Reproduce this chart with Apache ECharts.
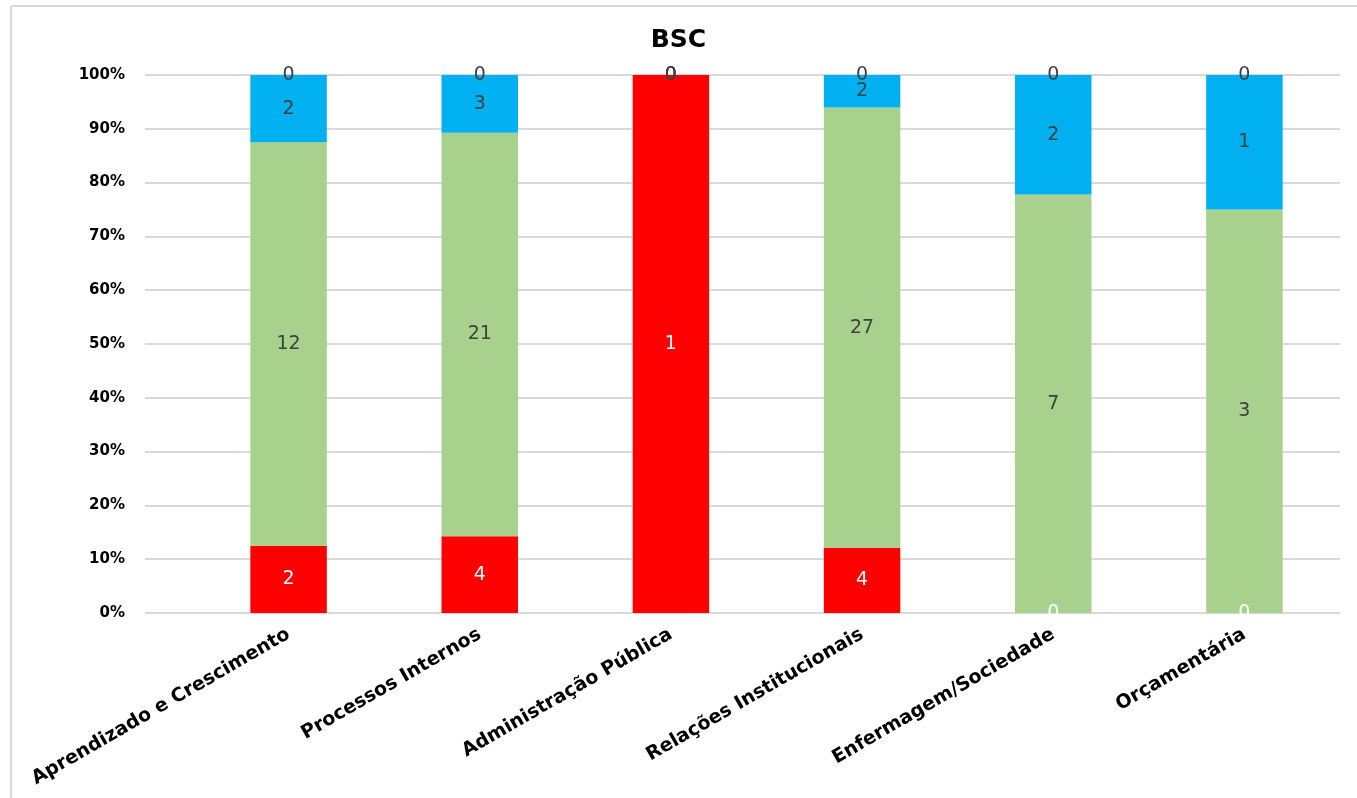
<!DOCTYPE html>
<html>
<head>
<meta charset="utf-8">
<script src="https://cdn.jsdelivr.net/npm/echarts@6/dist/echarts.min.js"></script>
<style>
  html, body { margin: 0; padding: 0; background: #fff; }
  #chart { width: 1357px; height: 798px; }
</style>
</head>
<body>
<div id="chart"></div>
<script>
const categories = [
    'Aprendizado e Crescimento',
    'Processos Internos',
    'Administração Pública',
    'Relações Institucionais',
    'Enfermagem/Sociedade',
    'Orçamentária'
];
const redValues = [2, 4, 1, 4, 0, 0];
const greenValues = [12, 21, 0, 27, 7, 3];
const blueValues = [2, 3, 0, 2, 2, 1];
const topValues = [0, 0, 0, 0, 0, 0];
const yTicks = [0, 10, 20, 30, 40, 50, 60, 70, 80, 90, 100];

const totals = categories.map((c, i) => redValues[i] + greenValues[i] + blueValues[i] + topValues[i]);

// share of each segment in its column, in percent
function toPercent(values) {
    return values.map((v, i) => ({
        value: totals[i] ? Math.round(v / totals[i] * 1e8) / 1e6 : 0,
        count: v
    }));
}

function makeSeries(name, values, color, labelColor) {
    return {
        name: name,
        type: 'bar',
        stack: 'total',
        barWidth: '40%',
        clip: false,
        data: toPercent(values),
        itemStyle: { color: color },
        label: {
            show: true,
            position: 'inside',
            color: labelColor,
            fontFamily: 'DejaVu Sans',
            fontSize: 19,
            formatter: p => String(p.data.count)
        },
        labelLayout: { hideOverlap: false },
        z: 2
    };
}

const chart = echarts.init(document.getElementById('chart'));
chart.setOption({
    animation: false,
    title: {
        text: 'BSC',
        left: 'center',
        top: 23,
        textStyle: { fontFamily: 'DejaVu Sans', fontWeight: 'bold', fontSize: 25, color: '#000' }
    },
    grid: { left: 193, right: 17, top: 75, bottom: 185 },
    graphic: [
        { type: 'line', shape: { x1: 11, y1: 6, x2: 1357, y2: 6 }, style: { stroke: '#d9d9d9', lineWidth: 2 } },
        { type: 'line', shape: { x1: 11, y1: 6, x2: 11, y2: 798 }, style: { stroke: '#d9d9d9', lineWidth: 2 } }
    ],
    xAxis: {
        type: 'category',
        data: categories,
        axisLine: { show: false },
        axisTick: { show: false },
        axisLabel: {
            rotate: 30,
            interval: 0,
            margin: 20,
            color: '#000',
            fontFamily: 'DejaVu Sans',
            fontWeight: 'bold',
            fontSize: 19
        }
    },
    yAxis: {
        type: 'value',
        min: yTicks[0],
        max: yTicks[yTicks.length - 1],
        interval: 10,
        axisLine: { show: false },
        axisTick: { show: true, length: 48, lineStyle: { color: '#d9d9d9', width: 2 } },
        splitLine: { lineStyle: { color: '#d9d9d9', width: 2 } },
        axisLabel: {
            margin: 68,
            formatter: '{value}%',
            color: '#000',
            fontFamily: 'DejaVu Sans',
            fontWeight: 'bold',
            fontSize: 15
        }
    },
    series: [
        makeSeries('Vermelho', redValues, '#FF0000', '#fff'),
        makeSeries('Verde', greenValues, '#A9D18E', '#404040'),
        makeSeries('Azul', blueValues, '#00B0F0', '#404040'),
        makeSeries('Outro', topValues, '#7F7F7F', '#404040')
    ]
});
</script>
</body>
</html>
